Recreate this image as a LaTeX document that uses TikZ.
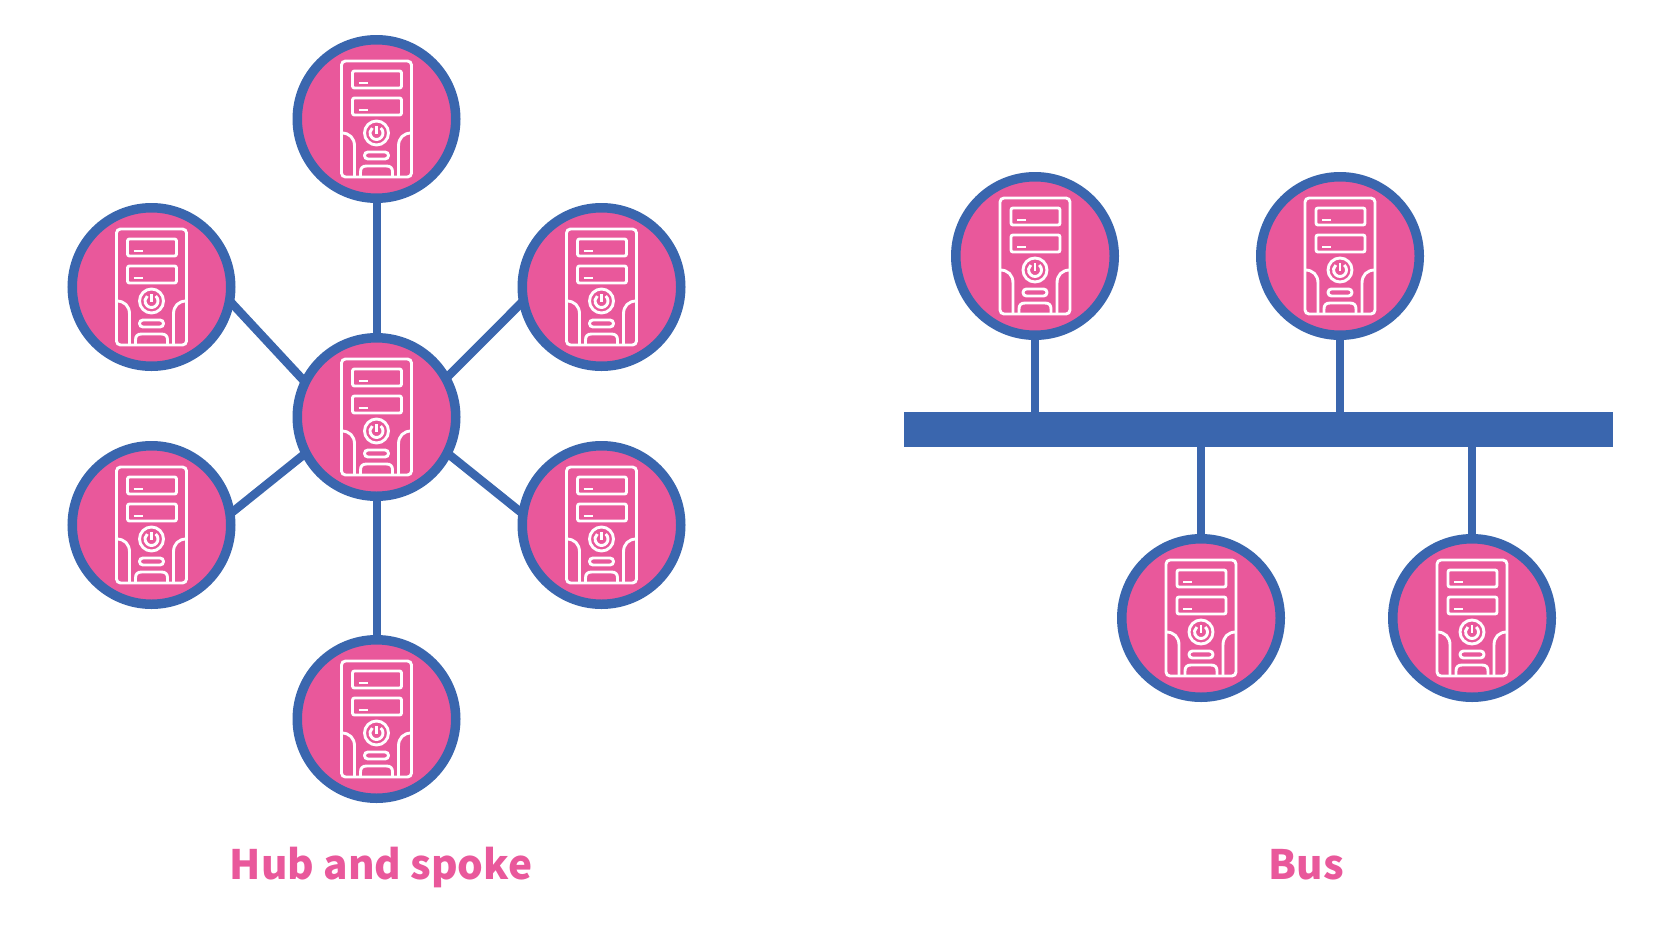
\documentclass[tikz,border=0pt]{standalone}
\usepackage{xcolor}
\usepackage{fontspec}
\newfontfamily\labfont{Noto Sans CJK SC}
\usepackage{tikz}
\definecolor{linkblue}{HTML}{3A66AE}
\definecolor{pcpink}{HTML}{E9589B}
\tikzset{
  pcnode/.style={circle, fill=pcpink, draw=linkblue, line width=9.5pt, minimum size=158.5pt, inner sep=0pt, outer sep=0pt},
  busbar/.style={rectangle, fill=linkblue, minimum width=709pt, minimum height=35pt, inner sep=0pt, outer sep=0pt},
  spoke/.style={draw=linkblue, line width=8.5pt},
  tap/.style={draw=linkblue, line width=8pt},
  lab/.style={text=pcpink, anchor=base, inner sep=0pt, font=\labfont\bfseries\fontsize{40.5}{40.5}\selectfont},
  pcicon/.pic={
    \begin{scope}[draw=white, line width=2.9pt]
      \draw[rounded corners=4pt] (-35,-58) rectangle (35,58);
      \draw[rounded corners=2pt] (-24,-48) rectangle (25,-31);
      \draw[rounded corners=2pt] (-24,-21) rectangle (25,-4);
      \draw (-18,-36) -- (-9,-36);
      \draw (-18,-9) -- (-9,-9);
      \draw (0,14) circle[radius=12];
      \draw (0,14) ++(-50:6.5) arc[start angle=-50, end angle=230, radius=6.5];
      \draw (0,7) -- (0,15);
      \draw[rounded corners=3.4pt] (-12,33) rectangle (12,40);
      \draw (-16,58) -- (-16,53) .. controls (-16,49) and (-14,47) .. (-10,47) -- (10,47) .. controls (14,47) and (16,49) .. (16,53) -- (16,58);
      \draw (-35,14) .. controls (-27,14) and (-22,19) .. (-22,27) -- (-22,58);
      \draw (35,14) .. controls (27,14) and (22,19) .. (22,27) -- (22,58);
    \end{scope}
  }
}

\begin{document}
\begin{tikzpicture}[x=1pt, y=-1pt]
  \useasboundingbox (0,0) rectangle (1680,945);

  % hub and spoke
  \foreach \n/\x/\y in {hub/376.5/417, top/376.5/119, bottom/376.5/719, upleft/151.5/287, upright/601.5/287, lowleft/151.5/525, lowright/601.5/525} {
    \node[pcnode] (\n) at (\x,\y) {};
    \pic at (\n) {pcicon};
  }
  \draw[tap] (hub) -- (top);
  \draw[tap] (hub) -- (bottom);
  \draw[spoke] (hub.154) -- (upleft.-10);
  \draw[spoke] (hub.29) -- (upright.190);
  \draw[spoke] (hub.207) -- (lowleft.8);
  \draw[spoke] (hub.-27) -- (lowright.172);

  % bus
  \node[busbar] (bar) at (1258.5,429.5) {};
  \foreach \n/\x/\y in {busa/1035/256, busb/1340/256, busc/1201/618, busd/1472/618} {
    \node[pcnode] (\n) at (\x,\y) {};
    \pic at (\n) {pcicon};
  }
  \draw[tap] (busa) -- (busa |- bar.north);
  \draw[tap] (busb) -- (busb |- bar.north);
  \draw[tap] (busc) -- (busc |- bar.south);
  \draw[tap] (busd) -- (busd |- bar.south);

  \node[lab] (hublab) at (381,879) {Hub and spoke};
  \node[lab] (buslab) at (1306,879) {Bus};
\end{tikzpicture}
\end{document}
